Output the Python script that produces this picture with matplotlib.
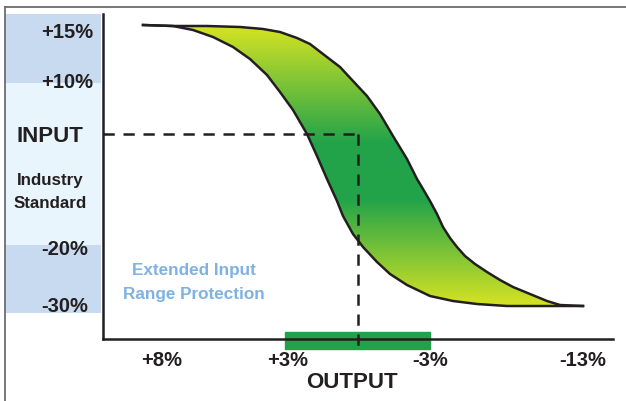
import numpy as np
import matplotlib
matplotlib.use("Agg")
import matplotlib.pyplot as plt
from matplotlib.colors import LinearSegmentedColormap
from matplotlib.lines import Line2D
from matplotlib.path import Path
from matplotlib.patches import PathPatch

plt.rcParams['font.family'] = ['Liberation Sans', 'DejaVu Sans']
plt.rcParams['font.weight'] = 'bold'

# chart units: x = output position, y = input level
upper_x = [40, 70, 104, 137, 160, 177, 194, 207, 220, 237, 250, 264, 277, 290, 304, 314, 320, 327,
           334, 340, 347, 354, 362, 372, 384, 397, 410, 427, 444, 457, 480]
upper_y = [314, 313, 313, 312, 310, 307, 301, 295, 285, 272, 258, 243, 225, 203, 180, 160, 150, 138,
           125, 112, 101, 92, 83, 75, 67, 59, 52, 45, 38, 34, 33]
lower_x = [40, 70, 90, 110, 130, 147, 164, 177, 190, 204, 214, 224, 234, 240, 250, 260, 274, 287,
           304, 327, 350, 374, 404, 434, 480]
lower_y = [314, 313, 309, 302, 292, 280, 264, 247, 229, 205, 183, 160, 138, 123, 105, 92, 77, 65,
           54, 43, 38, 35, 33, 33, 33]

input_level = 205
output_point = 255
output_range = (182, 327)

x_ticks = [59, 185, 327, 480]
x_tick_labels = ['+8%', '+3%', '-3%', '-13%']

y_label_pos = [307, 258, 90, 34]
y_labels = ['+15%', '+10%', '-20%', '-30%']
bands = [(256, 325, '#c8daef'), (94, 256, '#e8f5fc'), (26, 94, '#c8daef')]

ink = '#231f20'
W, H = 626, 402
fig = plt.figure(figsize=(W / 100, H / 100), dpi=100)

# main plot area: px 103..613 x 15..340
ax = fig.add_axes([103 / W, (H - 340) / H, 510 / W, 325 / H])
ax.set_facecolor('none')
for s in ['top', 'right']:
    ax.spines[s].set_visible(False)
for s in ['left', 'bottom']:
    ax.spines[s].set_color(ink)
    ax.spines[s].set_linewidth(1.8)
ax.set_yticks([])
ax.set_xticks(x_ticks)
ax.set_xticklabels(x_tick_labels, fontsize=14.5, fontweight='bold', color=ink)
ax.tick_params(axis='x', length=0, pad=8)

# green output range bar
ax.add_patch(plt.Rectangle((output_range[0], -10), output_range[1] - output_range[0], 17,
                           color='#21a24a', clip_on=False, zorder=1))

# band between the two curves with vertical gradient
px = upper_x + lower_x[::-1]
py = upper_y + lower_y[::-1]
band = Path(np.column_stack([px, py]))
cmap = LinearSegmentedColormap.from_list('g', [(0, '#d6e323'), (0.42, '#22a34a'),
                                              (0.62, '#22a34a'), (1, '#d6e323')])
grad = np.linspace(0, 1, 256).reshape(-1, 1)
im = ax.imshow(grad, cmap=cmap, aspect='auto', origin='upper',
               extent=[min(px), max(px), min(py), max(py)], zorder=2)
im.set_clip_path(PathPatch(band, transform=ax.transData))
ax.set_xlim(0, 510)
ax.set_ylim(0, 325)
ax.plot(upper_x, upper_y, color=ink, lw=1.8, zorder=3, solid_joinstyle='round')
ax.plot(lower_x, lower_y, color=ink, lw=1.8, zorder=3, solid_joinstyle='round')

# dashed guide lines
ax.plot([0, output_point], [input_level, input_level], color=ink, lw=1.8,
        dashes=(4.5, 3.5), zorder=4)
ax.plot([output_point, output_point], [input_level, -9], color=ink, lw=1.8,
        dashes=(4.5, 3.5), zorder=4, clip_on=False)

ax.text(91, 69, 'Extended Input', color='#7fb1e3', fontsize=12.3, ha='center', va='center')
ax.text(91, 46, 'Range Protection', color='#7fb1e3', fontsize=12.3, ha='center', va='center')
ax.text(352 - 103, -43, 'OUTPUT', color=ink, fontsize=16, ha='center', va='center')

# left input scale panel: px 5..101
lp = fig.add_axes([5 / W, (H - 340) / H, 96 / W, 325 / H])
lp.set_xlim(0, 96)
lp.set_ylim(0, 325)
lp.axis('off')
for lo, hi, c in bands:
    lp.axhspan(lo, hi, color=c, lw=0)
for yv, lab in zip(y_label_pos, y_labels):
    xr = 88 if lab.startswith('+') else 83
    lp.text(xr, yv, lab, fontsize=14.5, color=ink, ha='right', va='center')
lp.text(45, 204, 'INPUT', fontsize=16, color=ink, ha='center', va='center')
lp.text(45, 159, 'Industry', fontsize=12.2, color=ink, ha='center', va='center')
lp.text(45, 137, 'Standard', fontsize=12.2, color=ink, ha='center', va='center')

# outer frame (top and left)
fig.add_artist(Line2D([5 / W, 1], [(H - 8) / H, (H - 8) / H], color='#6d6d6d', lw=1.3))
fig.add_artist(Line2D([5 / W, 5 / W], [0, (H - 8) / H], color='#6d6d6d', lw=1.3))

fig.savefig('out.png', dpi=100)
